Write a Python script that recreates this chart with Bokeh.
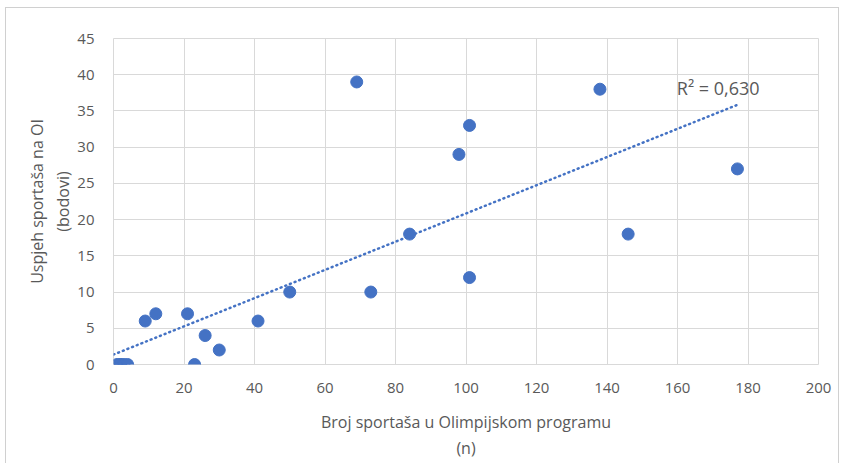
import numpy as np
from bokeh.plotting import figure
from bokeh.models import ColumnDataSource, FixedTicker, Label
from bokeh.embed import file_html
from bokeh.resources import INLINE

athletes = [1, 2, 2, 3, 4, 9, 12, 21, 23, 26, 30, 41, 50, 69, 73, 84, 98, 101, 101, 138, 146, 177]
points = [0, 0, 0, 0, 0, 6, 7, 7, 0, 4, 2, 6, 10, 39, 10, 18, 29, 33, 12, 38, 18, 27]
x_ticks = [0, 20, 40, 60, 80, 100, 120, 140, 160, 180, 200]
y_ticks = [0, 5, 10, 15, 20, 25, 30, 35, 40, 45]
r2_label = "R² = 0,630"

x = np.array(athletes, dtype=float)
y = np.array(points, dtype=float)
slope, intercept = np.polyfit(x, y, 1)
tx = np.array([0, x.max()])
ty = slope * tx + intercept

FONT = "Open Sans"
GREY = "#595959"
GRID = "#d9d9d9"

p = figure(width=834, height=456, output_backend="svg", toolbar_location=None,
           x_range=(0, 200), y_range=(0, 45),
           min_border_left=107, min_border_right=22, min_border_top=30, min_border_bottom=100,
           styles={"border": "1px solid #d0d0d0", "border-bottom": "none",
                   "margin-left": "5px", "margin-top": "7px"})
p.outline_line_color = GRID
p.xgrid.grid_line_color = GRID
p.ygrid.grid_line_color = GRID
p.xaxis.ticker = FixedTicker(ticks=x_ticks)
p.yaxis.ticker = FixedTicker(ticks=y_ticks)
for ax in (p.xaxis[0], p.yaxis[0]):
    ax.axis_line_color = None
    ax.major_tick_line_color = None
    ax.minor_tick_line_color = None
    ax.major_label_text_color = GREY
    ax.major_label_text_font = FONT
    ax.major_label_text_font_size = "15px"
    ax.axis_label_text_color = GREY
    ax.axis_label_text_font = FONT
    ax.axis_label_text_font_size = "16px"
    ax.axis_label_text_font_style = "normal"
p.xaxis.major_label_standoff = 12
p.yaxis.major_label_standoff = 13
p.xaxis.axis_label = "Broj sportaša u Olimpijskom programu\n(n)"
p.yaxis.axis_label = "Uspjeh sportaša na OI\n(bodovi)"
p.xaxis.axis_label_standoff = 15
p.yaxis.axis_label_standoff = 0

src = ColumnDataSource(dict(x=athletes, y=points))
p.line(tx, ty, line_color="#4472c4", line_width=2.5, line_dash="1 4", line_cap="round")
p.scatter("x", "y", source=src, size=12, color="#4472c4", line_color="#4472c4")

p.add_layout(Label(x=159.8, y=38.1, text=r2_label, text_font=FONT, text_font_size="18px",
                   text_color=GREY, text_baseline="middle", text_align="left"))

open("out.html", "w").write(file_html(p, INLINE))
